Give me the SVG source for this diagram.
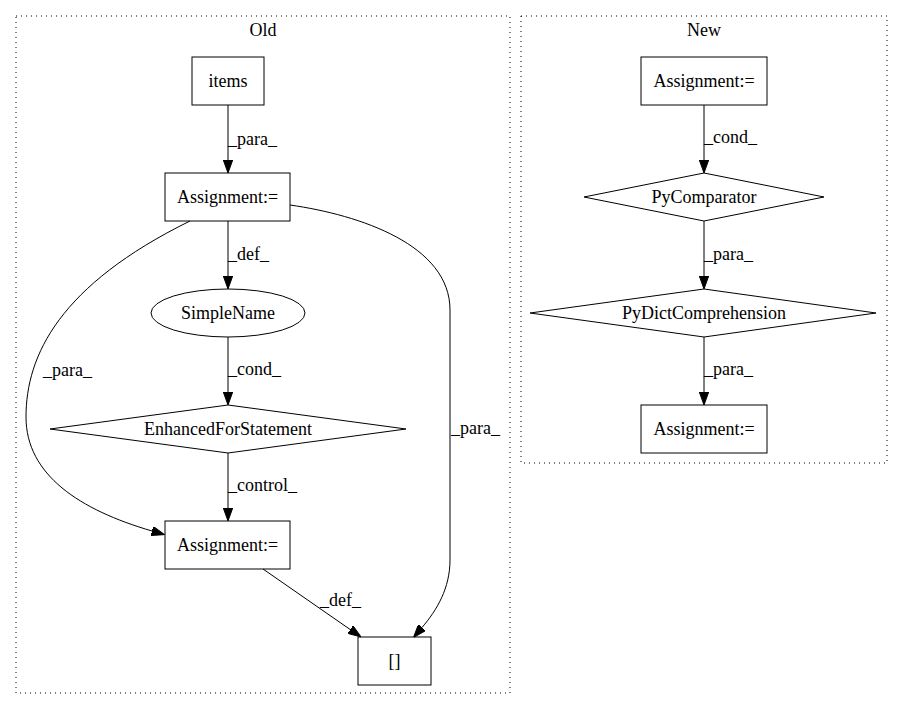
<svg xmlns="http://www.w3.org/2000/svg" width="903" height="712" viewBox="0 0 903 712">
<style>
text{font-family:"Liberation Serif","Times New Roman","DejaVu Serif",serif;font-size:18px;fill:#000;text-anchor:middle}
text.l{text-anchor:start}
.n{fill:none;stroke:#000;stroke-width:1}
.c{fill:none;stroke:#000;stroke-width:1;stroke-dasharray:1,4}
.e{fill:none;stroke:#000;stroke-width:1;marker-end:url(#ah)}
</style>
<defs>
<marker id="ah" markerUnits="userSpaceOnUse" viewBox="0 0 13 9.4" refX="0" refY="4.7" markerWidth="13" markerHeight="9.4" orient="auto">
<path d="M0,0 L13,4.7 L0,9.4 Z" fill="#000" stroke="#000" stroke-width="1"/>
</marker>
</defs>
<rect width="903" height="712" fill="#fff"/>
<g id="cluster_old">
<rect class="c" x="16" y="16" width="494" height="677"/>
<text x="263" y="36" font-family="Liberation Serif, serif">Old</text>
</g>
<g id="cluster_new">
<rect class="c" x="521" y="16" width="366" height="447"/>
<text x="704" y="36" font-family="Liberation Serif, serif">New</text>
</g>
<g id="edges" font-family="Liberation Serif, serif">
<path class="e" d="M228,105 L228,160"/>
<text class="l" x="228" y="145">_para_</text>
<path class="e" d="M228,221 L228,276"/>
<text class="l" x="228" y="260">_def_</text>
<path class="e" d="M228,337 L228,392"/>
<text class="l" x="228" y="375">_cond_</text>
<path class="e" d="M228,453 L228,508"/>
<text class="l" x="228" y="491">_control_</text>
<path class="e" d="M190,221 C60,285 26,355 26,417 C26,475 80,510 152,531"/>
<text class="l" x="43" y="376">_para_</text>
<path class="e" d="M290,205 C360,215 450,245 450,310 L450,560 C450,588 437,610 422,627.5"/>
<text class="l" x="451" y="434">_para_</text>
<path class="e" d="M263,569 L350.3,629.6"/>
<text class="l" x="320" y="606">_def_</text>
<path class="e" d="M704,105 L704,160"/>
<text class="l" x="704" y="143">_cond_</text>
<path class="e" d="M704,221 L704,276"/>
<text class="l" x="704" y="260">_para_</text>
<path class="e" d="M704,337 L704,392"/>
<text class="l" x="704" y="375">_para_</text>
</g>
<g id="items">
<rect class="n" x="192" y="57" width="72" height="48"/>
<text x="228" y="87">items</text>
</g>
<g id="old_assign1">
<rect class="n" x="165" y="173" width="125" height="48"/>
<text x="227.5" y="203">Assignment:=</text>
</g>
<g id="simplename">
<ellipse class="n" cx="228" cy="313" rx="77" ry="24"/>
<text x="228" y="319">SimpleName</text>
</g>
<g id="enhancedfor">
<polygon class="n" points="228,405 406,429 228,453 50,429"/>
<text x="228" y="435">EnhancedForStatement</text>
</g>
<g id="old_assign2">
<rect class="n" x="165" y="521" width="125" height="48"/>
<text x="227.5" y="551">Assignment:=</text>
</g>
<g id="brackets">
<rect class="n" x="358" y="637" width="73" height="48"/>
<text x="394.5" y="667">[]</text>
</g>
<g id="new_assign1">
<rect class="n" x="641" y="57" width="126" height="48"/>
<text x="704" y="87">Assignment:=</text>
</g>
<g id="pycomparator">
<polygon class="n" points="704,173 824,197 704,221 584,197"/>
<text x="704" y="203">PyComparator</text>
</g>
<g id="pydictcomp">
<polygon class="n" points="704,289 876,313 704,337 530,313"/>
<text x="704" y="319">PyDictComprehension</text>
</g>
<g id="new_assign2">
<rect class="n" x="641" y="405" width="126" height="48"/>
<text x="704" y="435">Assignment:=</text>
</g>
</svg>
